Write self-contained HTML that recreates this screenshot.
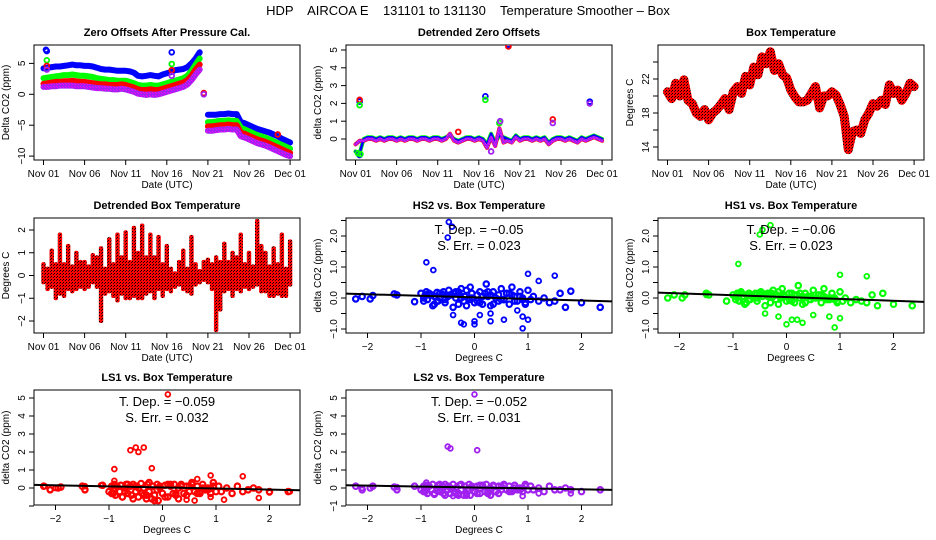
<!DOCTYPE html>
<html><head><meta charset="utf-8"><style>
html,body{margin:0;padding:0;background:#fff}
svg{display:block;font-family:"Liberation Sans",sans-serif}
</style></head><body>
<svg id="chart" width="936" height="540" viewBox="0 0 936 540">
<defs>
<pattern id="redpat" width="3" height="3" patternUnits="userSpaceOnUse"><rect width="3" height="3" fill="#ff0000"/><rect x="0" y="0" width="1" height="1" fill="#000"/><rect x="2" y="1" width="1" height="1" fill="#400"/></pattern>
<pattern id="magpat" width="3" height="3" patternUnits="userSpaceOnUse"><rect width="3" height="3" fill="#a020f0"/><rect x="0" y="0" width="1" height="1" fill="#ff00ff"/><rect x="2" y="2" width="1" height="1" fill="#ff00ff"/></pattern>
</defs>
<text x="468" y="15" text-anchor="middle" font-size="13" style="white-space:pre">HDP    AIRCOA E    131101 to 131130    Temperature Smoother – Box</text>
</svg>
<script>
// ---------- time series data (every 0.5 day, Nov 01 .. Dec 01) ----------
const zBlue=[4.2,4.3,4.4,4.5,4.5,4.6,4.7,4.8,4.7,4.7, 4.6,4.6,4.5,4.3,4.1,4.0,4.0,3.9,3.8,3.8, 3.8,3.7,3.5,3.0,2.9,3.0,3.1,3.0,2.9,3.2, 3.4,3.6,3.9,4.0,4.1,4.4,5.0,5.8,6.8, null,
 -3.3,-3.3,-3.3,-3.2,-3.2,-3.1,-3.2,-3.2,-4.5,-4.7,-5.0,-5.3,-5.6,-5.8,-6.0,-6.2,-6.5,-6.8,-7.2,-7.5,-7.8];
const zGreen=[2.6,2.7,2.8,2.9,3.0,3.1,3.1,3.2,3.1,3.0, 3.0,2.9,2.8,2.6,2.5,2.4,2.3,2.3,2.2,2.2, 2.2,2.0,1.8,1.5,1.4,1.4,1.5,1.4,1.4,1.6, 1.8,2.0,2.2,2.4,2.6,3.0,3.8,4.8,5.8, null,
 -4.5,-4.5,-4.4,-4.3,-4.3,-4.2,-4.3,-4.3,-5.4,-5.7,-6.0,-6.3,-6.6,-6.8,-7.0,-7.3,-7.6,-7.9,-8.2,-8.5,-8.8];
const zRed=[1.7,1.8,1.9,2.0,2.0,2.1,2.1,2.2,2.1,2.0, 2.0,1.9,1.8,1.7,1.6,1.6,1.5,1.5,1.5,1.6, 1.5,1.3,1.1,0.8,0.7,0.7,0.8,0.7,0.7,0.9, 1.1,1.3,1.5,1.7,1.9,2.3,3.0,4.0,4.8, null,
 -5.2,-5.2,-5.1,-5.0,-5.0,-4.9,-5.0,-5.0,-6.2,-6.4,-6.7,-7.0,-7.3,-7.5,-7.7,-8.0,-8.3,-8.6,-8.9,-9.2,-9.5];
const zMag=[1.2,1.2,1.3,1.3,1.4,1.4,1.4,1.4,1.3,1.3, 1.3,1.2,1.1,1.0,1.0,0.9,0.9,0.8,0.8,0.9, 0.8,0.6,0.4,0.1,0.0,-0.1,0.0,-0.1,0.0,0.2, 0.4,0.6,0.8,1.0,1.2,1.6,2.3,3.2,4.0, null,
 -5.9,-5.9,-5.8,-5.7,-5.7,-5.6,-5.7,-5.7,-6.8,-7.0,-7.3,-7.6,-7.9,-8.1,-8.3,-8.6,-8.9,-9.2,-9.5,-9.8,-10.0];
const zOutT=[0.3,0.4,15.6,0.4,15.6,0.4,15.6,28.5,0.4,15.6,19.5,19.5];
const zOutV=[7.2,7.0,6.8,5.5,4.9,4.6,3.9,-6.5,4.0,3.0,0.2,0.0];
const zOutC=["#0000ff","#0000ff","#0000ff","#00ff00","#00ff00","#ff0000","#ff0000","#ff0000","#a020f0","#a020f0","#ff0000","#a020f0"];

const detBlue=[-0.7,-0.8,0.0,0.1,0.1,0.0,0.1,0.0,0.1,0.1, 0.0,0.1,0.0,0.1,0.1,0.0,0.1,0.1,0.0,0.1, 0.1,0.0,0.1,0.2,0.0,-0.1,0.0,0.1,0.1,0.0, 0.1,0.0,-0.3,0.3,-0.2,0.2,0.1,0.0,-0.1,0.2, 0.0,0.1,0.1,0.0,0.1,0.0,0.1,-0.2,0.0,0.1, 0.1,0.0,0.1,0.0,-0.1,0.1,0.0,0.1,0.2,0.1, 0.0];
const detMag=[-0.3,-0.1,-0.1,0.0,0.0,-0.1,0.0,-0.1,0.0,0.0, -0.1,0.0,-0.1,0.0,0.0,-0.1,0.0,0.0,-0.1,0.0, 0.0,-0.1,0.0,0.3,-0.1,-0.2,-0.1,0.0,0.0,-0.1, 0.0,-0.1,-0.5,0.1,-0.4,0.6,-0.2,-0.1,-0.2,0.1, -0.1,0.0,0.0,-0.1,0.0,-0.1,0.0,-0.3,-0.1,0.0, 0.0,-0.1,0.0,-0.1,-0.2,0.0,-0.1,0.0,0.1,0.0, -0.1];
const dOutT=[0.5,15.8,18.6,28.5,0.5,0.5,18.6,24,12.5,0.5,15.8,17.5,0.3,0.6,17.6,24,28.5,16.5];
const dOutV=[2.1,2.4,5.3,2.1,-0.9,2.2,5.2,1.1,0.4,1.9,2.2,0.9,-0.8,-0.85,1.0,0.9,2.0,-0.7];
const dOutC=["#0000ff","#0000ff","#0000ff","#0000ff","#0000ff","#ff0000","#ff0000","#ff0000","#ff0000","#00ff00","#00ff00","#00ff00","#00ff00","#00ff00","#a020f0","#a020f0","#a020f0","#a020f0"];

const boxTemp=[20.5,19.7,21.5,20.0,21.9,19.5,19.1,18.0,17.6,18.4, 17.2,18.0,18.4,19.0,19.7,18.4,20.5,21.1,20.3,22.3, 21.3,23.4,22.5,24.6,23.8,25.2,23.0,23.8,22.5,22.1, 20.7,19.9,19.3,19.3,19.5,20.3,21.1,18.6,20.0,20.0, 20.5,20.1,19.0,17.6,13.7,15.8,16.0,15.6,17.2,18.0, 19.1,18.8,19.5,19.0,21.3,20.3,20.7,19.5,20.3,21.5, 21.1];

const detHi=[0.5,0.3,1.1,0.5,1.8,0.5,1.3,0.4,1.0,0.6, 0.6,0.4,0.9,0.8,1.2,0.3,1.6,0.5,1.8,0.8, 1.9,0.6,2.1,1.0,2.2,0.8,1.8,0.8,1.7,0.5, 1.3,0.3,0.1,0.6,1.1,0.3,1.7,0.5,0.2,0.6, 0.7,0.5,0.8,0.6,1.4,0.6,1.0,0.8,1.8,0.5, 1.0,0.4,2.4,1.3,1.0,0.4,1.2,0.5,1.8,0.3, 1.5];
const detLo=[-0.3,-0.6,-0.5,-1.0,-0.8,-0.9,-0.6,-0.7,-0.6,-0.5, -0.6,-0.5,-0.3,-0.5,-2.0,-0.8,-0.7,-0.9,-1.1,-0.8, -1.0,-1.0,-0.9,-1.0,-1.0,-0.8,-0.7,-1.0,-0.6,-0.9, -0.6,-0.7,-0.5,-0.4,-0.6,-0.7,-0.8,-0.4,-0.3,-0.2, -0.3,-0.6,-2.4,-1.5,-0.7,-0.6,-0.9,-0.6,-0.7,-0.5, -0.6,-0.5,-0.4,-0.7,-0.7,-0.9,-0.9,-0.8,-0.9,-0.9, -0.4];

// ---------- scatter data (detrended box temperature vs delta CO2) ----------
const tempDet=[-2.22,-2.1,-1.95,-1.9,-1.5,-1.45,-1.12,-1.0,-0.95,-0.92, -0.9,-0.88,-0.85,-0.8,-0.78,-0.75,-0.7,-0.68,-0.65,-0.6, -0.58,-0.55,-0.5,-0.48,-0.45,-0.4,-0.38,-0.35,-0.3,-0.28, -0.25,-0.2,-0.18,-0.15,-0.1,-0.08,-0.05,0,0.05,0.1, 0.15,0.2,0.22,0.25,0.3,0.35,0.4,0.45,0.5,0.55, 0.6,0.65,0.7,0.75,0.8,0.85,0.9,0.95,1.0,1.05, 1.1,1.2,1.3,1.4,1.5,1.6,1.7,1.8,2.0,2.35, -0.95,-0.85,-0.75,-0.65,-0.55,-0.45,-0.35,-0.25,-0.15,-0.05, 0.05,0.15,0.25,0.35,0.45,0.55,0.65,0.75,0.85,0.95, -0.9,-0.7,-0.5,-0.3,-0.1,0.1,0.3,0.5,0.7,0.9];
const hs2=[-0.03,0.05,-0.03,0.08,0.13,0.1,-0.12,0.15,0.0,0.1, 0.2,-0.05,0.15,0.1,-0.25,0.05,0.18,-0.1,0.0,0.12, 0.2,-0.15,0.05,0.25,0.1,-0.3,0.15,0.0,-0.2,0.1, 0.3,-0.1,0.05,0.25,-0.05,0.35,0.0,-0.15,0.1,0.2, -0.2,0.15,0.45,0.05,-0.25,0.2,0.0,-0.1,0.3,-0.05, 0.15,-0.2,0.35,0.05,-0.1,0.2,0.0,-0.15,0.25,-0.05, 0.05,-0.1,0.0,-0.15,-0.1,0.15,-0.3,0.22,-0.15,-0.3, -0.1,0.1,-0.2,0.15,-0.05,0.1,0.2,0.0,-0.25,0.15, -0.1,0.05,0.2,-0.2,0.1,-0.05,0.15,-0.1,0.05,-0.2, 0.1,-0.1,0.05,0.2,0.0,-0.15,0.1,-0.05,0.1,-0.05];
const hs2OutX=[-0.48,-0.42,-0.5,-0.9,-0.77,1.0,1.5,1.2,-0.4,-0.25,-0.2,0.0,0.0,0.1,0.3,0.3,0.55,0.8,0.9,0.9,1.0];
const hs2OutY=[2.45,2.3,1.95,1.15,0.9,0.78,0.72,0.55,-0.55,-0.8,-0.85,-0.75,-0.85,-0.55,-0.5,-0.75,-0.7,-0.4,-0.6,-0.98,-0.7];
const hs1=[0.0,0.1,0.0,0.1,0.15,0.1,-0.1,0.1,0.05,0.15, 0.15,-0.1,0.2,0.05,-0.2,0.1,0.15,-0.05,0.05,0.1, 0.15,-0.1,0.1,0.2,0.05,-0.25,0.1,0.05,-0.15,0.15, 0.25,-0.05,0.1,0.2,0.0,0.3,0.05,-0.1,0.15,0.15, -0.15,0.1,0.4,0.0,-0.2,0.15,0.05,-0.05,0.25,0.0, 0.1,-0.15,0.3,0.0,-0.05,0.15,-0.05,-0.1,0.2,-0.1, 0.0,-0.15,-0.05,-0.1,-0.15,0.1,-0.25,0.15,-0.2,-0.25, -0.05,0.15,-0.15,0.1,0.0,0.15,0.15,0.05,-0.2,0.1, -0.05,0.1,0.15,-0.15,0.05,0.0,0.1,-0.05,0.0,-0.15, 0.15,-0.05,0.1,0.15,0.05,-0.1,0.05,0.0,0.05,0.0];
const hs1OutX=[-0.3,-0.45,-0.5,-0.9,1.0,1.5,-0.4,-0.15,0.0,0.1,0.3,0.5,0.8,0.9,1.0,0.2,-0.9,-1.5];
const hs1OutY=[2.35,2.2,2.05,1.1,0.75,0.7,-0.5,-0.6,-0.85,-0.7,-0.8,-0.55,-0.6,-0.95,-0.65,-0.7,-0.1,0.1];
const ls1=[0.1,-0.1,0.0,0.05,0.1,-0.1,0.15,-0.2,0.1,-0.3, 0.2,-0.4,0.1,-0.2,0.15,-0.5,0.0,0.2,-0.3,0.1, -0.4,0.2,-0.2,0.1,-0.5,0.25,-0.3,0.0,-0.6,0.2, -0.2,-0.6,0.1,-0.4,0.2,-0.7,0.0,-0.3,0.15,-0.5, 0.1,-0.3,0.2,-0.4,0.0,0.2,-0.3,0.1,-0.2,0.3, -0.2,0.1,-0.3,0.2,-0.1,0.0,-0.3,0.3,-0.2,0.1, -0.2,0.0,-0.3,0.1,-0.2,-0.1,0.0,-0.1,-0.2,-0.2, -0.3,0.1,-0.5,0.2,-0.6,0.0,-0.4,0.3,-0.7,0.1, -0.5,0.2,-0.3,0.1,-0.4,0.2,-0.3,0.0,-0.1,0.1, 0.0,-0.2,0.1,-0.4,-0.1,0.2,-0.6,0.1,-0.2,0.0];
const ls1OutX=[0.1,-0.6,-0.5,-0.45,-0.35,-0.9,-0.2,0.9,1.5,0.65,-0.9,0.45,0.6,0.9,1.15,1.8,2.0,2.38,-2.1,-2.2,-2.0,-1.45,-1.45,-1.15];
const ls1OutY=[5.2,2.1,2.25,2.0,2.25,1.05,1.1,0.7,0.65,0.5,0.4,-0.65,-0.7,-0.5,-0.65,-0.55,-0.25,-0.2,-0.1,0.1,0.0,0.1,-0.1,0.15];
const ls2=[0.1,-0.1,0.0,0.1,0.05,-0.1,0.1,-0.1,0.1,-0.2, 0.15,-0.3,0.1,-0.1,0.2,-0.35,0.0,0.15,-0.2,0.1, -0.3,0.2,-0.1,0.1,-0.3,0.2,-0.2,0.0,-0.4,0.15, -0.1,-0.4,0.1,-0.3,0.2,-0.4,0.0,-0.2,0.1,-0.3, 0.1,-0.2,0.2,-0.3,0.0,0.15,-0.2,0.1,-0.1,0.2, -0.1,0.1,-0.2,0.15,-0.1,0.0,-0.2,0.2,-0.1,0.1, -0.1,0.0,-0.2,0.1,-0.1,-0.1,0.0,-0.1,-0.2,-0.1, -0.2,0.1,-0.3,0.2,-0.4,0.0,-0.3,0.2,-0.4,0.1, -0.3,0.15,-0.2,0.1,-0.3,0.15,-0.2,0.0,-0.1,0.1, 0.0,-0.15,0.1,-0.3,-0.1,0.15,-0.4,0.1,-0.1,0.0];
const ls2OutX=[0.0,-0.5,-0.45,0.05,-0.9,-0.4,0.3,0.9,1.2,1.8,-2.1,-1.45];
const ls2OutY=[5.2,2.3,2.2,2.1,0.3,-0.45,-0.4,-0.45,-0.3,-0.3,0.0,0.05];
const dateLabels=["Nov 01","Nov 06","Nov 11","Nov 16","Nov 21","Nov 26","Dec 01"];
const dateTicks=[0,5,10,15,20,25,30];

const NS='http://www.w3.org/2000/svg';
const svg=document.getElementById('chart');
function mk(tag,attrs,parent){const e=document.createElementNS(NS,tag);for(const k in attrs)e.setAttribute(k,attrs[k]);(parent||svg).appendChild(e);return e;}
const W=266,H=115;
let clipN=0;

function frame(p){
  const g=mk('g',{});
  
  
  const t=mk('text',{x:p.L+W/2,y:p.T-9,'text-anchor':'middle','font-size':'11','font-weight':'bold'},g);
  t.textContent=p.title;
  
  
  const b=mk('rect',{x:p.L,y:p.T,width:W,height:H,fill:'none',stroke:'#000','stroke-width':1},g);
  
  
  const xa=mk('g',{},g);
  
  
  p.xt.forEach((v,i)=>{const x=p.sx(v);
    mk('line',{x1:x,x2:x,y1:p.T+H,y2:p.T+H+5,stroke:'#000'},xa);
    const tx=mk('text',{x:x,y:p.T+H+17,'text-anchor':'middle','font-size':'10'},xa);tx.textContent=p.xl[i];
    
    
  });
  const xt=mk('text',{x:p.L+W/2,y:p.T+H+28,'text-anchor':'middle','font-size':'10'},g);xt.textContent=p.xlab;
  
  
  const ya=mk('g',{},g);
  
  
  p.yt.forEach(v=>{const y=p.sy(v);mk('line',{x1:p.L,x2:p.L-5,y1:y,y2:y,stroke:'#000'},ya);});
  p.ylv.forEach((v,i)=>{const y=p.sy(v);
    const ty=mk('text',{x:p.L-9,y:y,'text-anchor':'middle','font-size':'10',transform:`rotate(-90 ${p.L-9} ${y})`},ya);ty.textContent=p.yl[i];
    
    
  });
  const yx=p.L-25, yy=p.T+H/2;
  const yt=mk('text',{x:yx,y:yy,'text-anchor':'middle','font-size':'10',transform:`rotate(-90 ${yx} ${yy})`},g);yt.textContent=p.ylab;
  
  
  const id='c'+(clipN++);
  const cp=mk('clipPath',{id:id},g);mk('rect',{x:p.L,y:p.T,width:W,height:H},cp);
  const d=mk('g',{'clip-path':`url(#${id})`},g);
  
  
  return d;
}
function timeX(L){return t=>L+9.5+t*8.22;}
function linY(T,zeroOff,ppu,zeroVal){return v=>T+zeroOff-(v-(zeroVal||0))*ppu;}
function series(g,arr,sx,sy,stroke,w,name){
  let d='',pen=false;
  arr.forEach((v,i)=>{if(v===null){pen=false;return;}const x=sx(i*0.5),y=sy(v);d+=(pen?'L':'M')+x.toFixed(1)+' '+y.toFixed(1);pen=true;});
  const p=mk('path',{d:d,fill:'none',stroke:stroke,'stroke-width':w,'stroke-linejoin':'round','stroke-linecap':'round'},g);
  
  
}
function pts(g,xs,ys,sx,sy,col,name,r,sw){
  const n=Math.min(xs.length,ys.length);
  for(let i=0;i<n;i++){
    const c=mk('circle',{cx:sx(xs[i]),cy:sy(ys[i]),r:r||2.3,fill:'none',stroke:Array.isArray(col)?col[i]:col,'stroke-width':sw||1.4},g);
    
    
  }
}

// Panel 1
{const L=34,T=45,sx=timeX(L),sy=linY(T,49.3,6.18);
 const g=frame({name:'zero-offsets',L,T,sx,sy,title:'Zero Offsets After Pressure Cal.',xlab:'Date (UTC)',ylab:'Delta CO2 (ppm)',xt:dateTicks,xl:dateLabels,yt:[-10,-5,0,5],ylv:[-10,-5,0,5],yl:['−10','−5','0','5']});
 series(g,zBlue,sx,sy,'#0000ff',6,'hs2-series');
 series(g,zGreen,sx,sy,'#00ff00',6,'hs1-series');
 series(g,zRed,sx,sy,'#ff0000',6,'ls1-series');
 series(g,zMag,sx,sy,'url(#magpat)',6,'ls2-series');
 pts(g,zOutT,zOutV,sx,sy,zOutC,'outlier-point',2.4,1.8);}
// Panel 2
{const L=346,T=45,sx=timeX(L),sy=linY(T,94,17.8);
 const g=frame({name:'detrended-zero',L,T,sx,sy,title:'Detrended Zero Offsets',xlab:'Date (UTC)',ylab:'delta CO2 (ppm)',xt:dateTicks,xl:dateLabels,yt:[0,1,2,3,4,5],ylv:[0,1,2,3,4,5],yl:['0','1','2','3','4','5']});
 series(g,detBlue,sx,sy,'#00ff00',4,'hs1-series');
 series(g,detMag,sx,sy,'#ff0000',4,'ls1-series');
 series(g,detBlue,sx,sy,'#0000ff',2.5,'hs2-series');
 series(g,detMag,sx,sy,'url(#magpat)',3,'ls2-series');
 pts(g,dOutT,dOutV,sx,sy,dOutC,'outlier-point',2.4,1.8);}
// Panel 3
{const L=658,T=45,sx=timeX(L),sy=linY(T,102,8.5,14);
 const g=frame({name:'box-temperature',L,T,sx,sy,title:'Box Temperature',xlab:'Date (UTC)',ylab:'Degrees C',xt:dateTicks,xl:dateLabels,yt:[14,16,18,20,22,24],ylv:[14,18,22],yl:['14','18','22']});
 series(g,boxTemp,sx,sy,'url(#redpat)',9,'box-temp-series');}
// Panel 4
{const L=34,T=218,sx=timeX(L),sy=linY(T,57.5,22.75);
 const g=frame({name:'detrended-box-temp',L,T,sx,sy,title:'Detrended Box Temperature',xlab:'Date (UTC)',ylab:'Degrees C',xt:dateTicks,xl:dateLabels,yt:[-2,-1,0,1,2],ylv:[-2,-1,0,1,2],yl:['−2','−1','0','1','2']});
 detHi.forEach((h,i)=>{const x=sx(i*0.5),y1=sy(h),y2=sy(detLo[i]);
   const r=mk('rect',{x:x-2.2,y:y1-2,width:4.4,height:y2-y1+4,fill:'url(#redpat)',rx:2},g);
   
   });}
// Scatter panels
function scatter(name,title,L,T,zOff,ppu,ys,yt,ylv,yl,ys2,oX,oY,col,a,b,dep,err){
  const sx=v=>L+128.5+v*53.5, sy=linY(T,zOff,ppu);
  const g=frame({name,L,T,sx,sy,title,xlab:'Degrees C',ylab:'delta CO2 (ppm)',xt:[-2,-1,0,1,2],xl:['−2','−1','0','1','2'],yt,ylv,yl});
  pts(g,tempDet,ys,sx,sy,col,'data-point',2.7,2.2);
  pts(g,oX,oY,sx,sy,col,'outlier-point',2.4,1.8);
  const x1=-2.5,x2=2.7;
  const ln=mk('line',{x1:sx(x1),y1:sy(a+b*x1),x2:sx(x2),y2:sy(a+b*x2),stroke:'#000','stroke-width':2},g);
  
  
  const t1=mk('text',{x:L+W/2,y:T+16,'text-anchor':'middle','font-size':'13'});t1.textContent='T. Dep. =  '+dep;
  
  
  const t2=mk('text',{x:L+W/2,y:T+32,'text-anchor':'middle','font-size':'13'});t2.textContent='S. Err. =  '+err;
  
  
}
const smallT=[-1,-0.5,0,0.5,1,1.5,2,2.5];
scatter('hs2-vs-temp','HS2 vs. Box Temperature',346,218,80,31,hs2,smallT,[-1,0,1,2],['−1.0','0.0','1.0','2.0'],null,hs2OutX,hs2OutY,'#0000ff',0.02,-0.05,'−0.05','0.023');
scatter('hs1-vs-temp','HS1 vs. Box Temperature',658,218,80,31,hs1,smallT,[-1,0,1,2],['−1.0','0.0','1.0','2.0'],null,hs1OutX,hs1OutY,'#00ff00',0.03,-0.06,'−0.06','0.023');
scatter('ls1-vs-temp','LS1 vs. Box Temperature',34,390,98,18,ls1,[-1,0,1,2,3,4,5],[0,1,2,3,4,5],['0','1','2','3','4','5'],null,ls1OutX,ls1OutY,'#ff0000',0.03,-0.059,'−0.059','0.032');
scatter('ls2-vs-temp','LS2 vs. Box Temperature',346,390,98,18,ls2,[-1,0,1,2,3,4,5],[-1,0,1,2,3,4,5],['−1','0','1','2','3','4','5'],null,ls2OutX,ls2OutY,'#a020f0',0.03,-0.052,'−0.052','0.031');
</script>
</body></html>
